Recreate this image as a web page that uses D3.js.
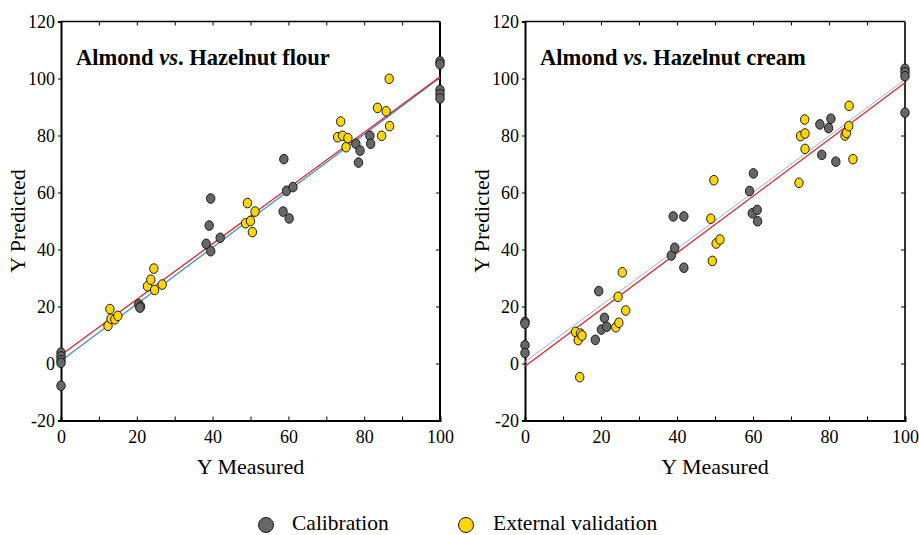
<!DOCTYPE html>
<head>
  <meta charset="utf-8">
  <script src="https://d3js.org/d3.v7.min.js"></script>
  <style>
    body { margin: 0; background: #fff; }
    text { font-family: "Liberation Serif", "Times New Roman", serif; }
  </style>
</head>
<body>
  <script>
    // values
    var xTicks = [0, 20, 40, 60, 80, 100];
    var yTicks = [-20, 0, 20, 40, 60, 80, 100, 120];

    // Almond vs. Hazelnut flour
    var flourCalX = [0, 0, 0, 0, 0, 20.5, 21, 20.8, 38.3, 39.5, 39.1, 39.5, 42, 58.8, 59.5, 61.2, 58.6, 60.2,
                     77.8, 78.9, 78.5, 81.5, 81.7, 100, 100, 100, 100, 100];
    var flourCalY = [3.8, 2.5, 1.2, 0.2, -7.8, 20.8, 20, 19.6, 42, 39.4, 48.4, 57.9, 44.1, 71.7, 60.6, 61.9, 53.3, 50.9,
                     77.1, 74.7, 70.5, 79.9, 77.1, 106, 105, 96, 94.5, 93];
    var flourValX = [12.4, 12.9, 13.2, 14.2, 15, 22.8, 23.7, 24.5, 24.7, 26.7, 48.7, 49.2, 50, 50.5, 51.2,
                     73, 73.8, 74.3, 75.2, 75.7, 83.5, 84.6, 85.8, 86.6, 86.7];
    var flourValY = [13.2, 19.1, 15.7, 15.5, 16.7, 27.1, 29.4, 33.3, 25.8, 27.7, 49.2, 56.3, 50, 46.1, 53.3,
                     79.4, 84.9, 79.9, 75.9, 79.1, 89.7, 79.9, 88.5, 99.9, 83.3];
    var flourFitRed = [[0, 3], [100, 100.6]];
    var flourFitBlue = [[0, 1], [100, 100.3]];

    // Almond vs. Hazelnut cream
    var creamCalX = [0, 0, 0, 0, 18.5, 19.4, 20.1, 20.9, 21.5, 38.5, 39, 39.4, 41.8, 41.8, 59.1, 59.8, 60.1, 61.1, 61.2,
                     77.6, 78.1, 79.9, 80.5, 81.8, 100, 100, 100, 100];
    var creamCalY = [14.6, 14, 6.4, 3.7, 8.3, 25.4, 11.9, 16, 12.9, 37.9, 51.6, 40.6, 33.6, 51.6, 60.5, 52.7, 66.7, 53.9, 49.9,
                     83.9, 73.2, 82.6, 85.9, 70.8, 103.4, 102.2, 100.8, 88];
    var creamValX = [13.3, 14, 14.4, 14.6, 15, 23.9, 24.5, 24.7, 25.6, 26.5, 48.9, 49.3, 49.7, 50.3, 51.3,
                     72.1, 72.5, 73.6, 73.7, 73.7, 84.2, 84.6, 85.2, 85.3, 86.3];
    var creamValY = [11.1, 8.2, -4.8, 10.5, 9.8, 12.7, 23.4, 14.3, 32, 18.6, 50.8, 36, 64.3, 42.1, 43.5,
                     63.4, 79.8, 85.6, 80.7, 75.3, 80, 80.9, 83.3, 90.4, 71.7];
    var creamFitRed = [[0, -1], [100, 98.5]];
    var creamFitBlue = [[0, 0.6], [100, 99.6]];

    var legendLabels = ["Calibration", "External validation"];
    var colors = ["#676767", "#ffd700"];

    var width = 919, height = 535;
    var svg = d3.select("body").append("svg")
      .attr("width", width)
      .attr("height", height);

    function panel(left, right, title2, calX, calY, valX, valY, red, blue, blueStyle, rightAxisColor) {
      var top = 21.5, bottom = 420.5;
      var x = d3.scaleLinear().domain([0, 100]).range([left, right]);
      var y = d3.scaleLinear().domain([-20, 120]).range([bottom, top]);
      var g = svg.append("g");

      // frame
      g.append("line").attr("x1", left).attr("x2", right).attr("y1", top).attr("y2", top)
        .attr("stroke", "#000").attr("stroke-width", 1.5);
      g.append("line").attr("x1", right).attr("x2", right).attr("y1", top).attr("y2", bottom)
        .attr("stroke", rightAxisColor).attr("stroke-width", 2);

      // bottom axis, inner ticks every 10
      var xb = g.append("g")
        .attr("transform", "translate(0," + bottom + ")")
        .call(d3.axisBottom(x).tickValues(d3.range(0, 101, 10)).tickSize(-4).tickPadding(10)
          .tickFormat(function(d) { return xTicks.indexOf(d) >= 0 ? d : ""; }));
      xb.select(".domain").attr("stroke-width", 2);
      xb.selectAll("text").attr("font-size", 18).attr("fill", "#000")
        .attr("font-family", "Liberation Serif");

      // top inner ticks
      g.append("g")
        .attr("transform", "translate(0," + top + ")")
        .call(d3.axisTop(x).tickValues(d3.range(10, 100, 10)).tickSize(-4).tickFormat(""))
        .select(".domain").remove();

      // left axis, outer ticks
      var yl = g.append("g")
        .attr("transform", "translate(" + left + ",0)")
        .call(d3.axisLeft(y).tickValues(yTicks).tickSize(3).tickPadding(3)
          .tickFormat(function(d) { return d < 0 ? "-" + Math.abs(d) : d; }));
      yl.select(".domain").attr("stroke-width", 2);
      yl.selectAll("text").attr("font-size", 18).attr("fill", "#000")
        .attr("font-family", "Liberation Serif");

      // right inner ticks
      g.append("g")
        .attr("transform", "translate(" + right + ",0)")
        .call(d3.axisRight(y).tickValues(yTicks.slice(1, -1)).tickSize(-4).tickFormat(""))
        .select(".domain").remove();

      // fit lines
      var line = d3.line().x(function(d) { return x(d[0]); }).y(function(d) { return y(d[1]); });
      g.append("path").datum(blue).attr("d", line).attr("fill", "none")
        .attr("stroke", blueStyle.color).attr("stroke-width", blueStyle.width);
      g.append("path").datum(red).attr("d", line).attr("fill", "none")
        .attr("stroke", "#e2232b").attr("stroke-width", 1.3);

      // points
      function dots(xs, ys, fill) {
        g.append("g").selectAll("ellipse").data(xs)
          .enter().append("ellipse")
            .attr("cx", function(d) { return x(d); })
            .attr("cy", function(d, i) { return y(ys[i]); })
            .attr("rx", 4.2)
            .attr("ry", 4.8)
            .attr("fill", fill)
            .attr("stroke", "#1a1a1a")
            .attr("stroke-width", 1);
      }
      dots(calX, calY, colors[0]);
      dots(valX, valY, colors[1]);

      // title
      var t = g.append("text")
        .attr("x", left + 15)
        .attr("y", 65)
        .attr("font-size", 22.5)
        .attr("font-weight", "bold");
      t.append("tspan").text("Almond ");
      t.append("tspan").attr("font-style", "italic").text("vs");
      t.append("tspan").text(". " + title2);

      // axis titles
      g.append("text")
        .attr("x", (left + right) / 2)
        .attr("y", 474)
        .attr("text-anchor", "middle")
        .attr("font-size", 22)
        .text("Y Measured");
      g.append("text")
        .attr("transform", "translate(" + (left - 36) + "," + ((top + bottom) / 2) + ") rotate(-90)")
        .attr("text-anchor", "middle")
        .attr("font-size", 22)
        .text("Y Predicted");
    }

    panel(61, 440, "Hazelnut flour", flourCalX, flourCalY, flourValX, flourValY,
          flourFitRed, flourFitBlue, {color: "#3f8fd6", width: 1.3}, "#000");
    panel(525, 905, "Hazelnut cream", creamCalX, creamCalY, creamValX, creamValY,
          creamFitRed, creamFitBlue, {color: "#8fb2e6", width: 1}, "#333");

    // legend
    var legend = svg.append("g").selectAll("g").data(legendLabels)
      .enter().append("g")
        .attr("transform", function(d, i) { return "translate(" + (266 + i * 200) + ",525)"; });
    legend.append("circle")
      .attr("r", 7.5)
      .attr("fill", function(d, i) { return colors[i]; })
      .attr("stroke", "#1a1a1a")
      .attr("stroke-width", 1);
    legend.append("text")
      .attr("x", function(d, i) { return i === 0 ? 26 : 27; })
      .attr("y", 5)
      .attr("font-size", 21.5)
      .text(function(d) { return d; });
  </script>
</body>
